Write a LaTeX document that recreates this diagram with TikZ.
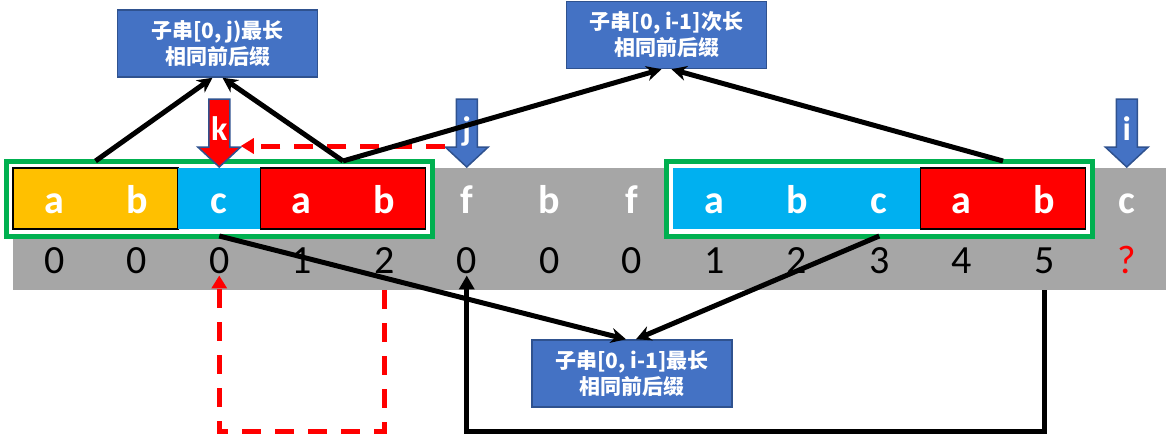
\documentclass[tikz,border=0pt]{standalone}
\usepackage{fontspec}
\setmainfont{Carlito}
\newfontfamily\cjk{Noto Sans CJK SC}
\usepackage{tikz}
\usetikzlibrary{positioning,fit,backgrounds,arrows.meta}
\definecolor{BandGray}{HTML}{A6A6A6}
\definecolor{PrefixYellow}{HTML}{FFC000}
\definecolor{MidBlue}{HTML}{00B0F0}
\definecolor{SuffixRed}{HTML}{FF0000}
\definecolor{FrameGreen}{HTML}{00B050}
\definecolor{BoxBlue}{HTML}{4472C4}
\definecolor{BoxEdge}{HTML}{2F528F}

\begin{document}
\begin{tikzpicture}[
      x=1pt, y=-1pt,
      every node/.style={align=center},
      cell/.style={minimum height=61pt, inner sep=0pt, outer sep=0pt},
      letter/.style={anchor=base, inner sep=0pt, text=white, font=\bfseries\fontsize{40}{48}\selectfont},
      digit/.style={anchor=base, inner sep=2pt, font=\fontsize{40}{48}\selectfont},
      greenframe/.style={draw=FrameGreen, fill=white, line width=5pt, inner sep=7pt, outer sep=0pt},
      note/.style={draw=BoxEdge, line width=1.5pt, fill=BoxBlue, text=white, minimum width=200pt, minimum height=67pt, font=\cjk\bfseries\fontsize{21}{26}\selectfont},
      pointer/.style={draw=BoxEdge, line width=1.5pt},
      ptext/.style={anchor=base, text=white, inner sep=0pt, font=\bfseries\fontsize{34}{40}\selectfont},
      arrow/.style={line width=5pt, -{Stealth[length=15pt,width=15pt]}},
      looparrow/.style={line width=5pt, -{Triangle[length=14pt,width=15pt]}},
      dasharrow/.style={line width=5pt, SuffixRed, dash pattern=on 19pt off 14pt, -{Triangle[length=13pt,width=15pt]}}
    ]
      \useasboundingbox (0,0) rectangle (1166,436);
      % coloured parts of the string
      \node[cell, fill=PrefixYellow, draw, line width=1.5pt, minimum width=165pt] (yel) at (95.5,198.5) {};
      \node[cell, fill=MidBlue, minimum width=82.5pt] (lblue) at (219.25,198.5) {};
      \node[cell, fill=SuffixRed, draw, line width=1.5pt, minimum width=165pt] (lred) at (343,198.5) {};
      \node[cell, fill=MidBlue, minimum width=247.5pt] (rblue) at (796.75,198.5) {};
      \node[cell, fill=SuffixRed, draw, line width=1.5pt, minimum width=165pt] (rred) at (1003,198.5) {};
      % letters and next values
      \foreach \ch [count=\k from 0] in {a,b,c,a,b,f,b,f,a,b,c,a,b,c}
        \node[letter] (c\k) at ({13+82.5*(\k+0.5)},213) {\ch};
      \foreach \v [count=\k from 0] in {0,0,0,1,2,0,0,0,1,2,3,4,5,{\textcolor{SuffixRed}{?}}}
        \node[digit] (d\k) at ({13+82.5*(\k+0.5)},273) {\v};
      \begin{scope}[on background layer]
        \node[fill=BandGray, minimum width=1153pt, minimum height=122pt, inner sep=0pt, anchor=north west] (band) at (13,168) {};
        \node[greenframe, fit=(yel)(lred)] (lgreen) {};
        \node[greenframe, fit=(rblue)(rred)] (rgreen) {};
      \end{scope}
      % boxes
      \node[note] (jmax) at (217.5,43.5) {子串[0, j)最长\\相同前后缀};
      \node[note] (isecond) at (666.5,35) {子串[0, i-1]次长\\相同前后缀};
      \node[note] (imax) at (632,373.5) {子串[0, i-1]最长\\相同前后缀};
      % pointers k, j, i
      \foreach \x/\c/\lab/\n in {219.25/SuffixRed/k/karr, 466.75/BoxBlue/j/jarr, 1126.75/BoxBlue/i/iarr} {
        \draw[pointer, fill=\c] (\x-10.5,99) -- (\x+10.5,99) -- (\x+10.5,147) -- (\x+21.5,147) -- (\x,167) -- (\x-21.5,147) -- (\x-10.5,147) -- cycle;
        \coordinate (\n-l) at (\x-21.5,146);
        \coordinate (\n-r) at (\x+21.5,146);
        \node[ptext] (\n) at (\x,140) {\lab};
      }
      \draw[dasharrow] (jarr-l) -- (karr-r);
      % arrows to the boxes
      \draw[arrow] (yel.north |- lgreen.north) -- ([xshift=-5pt]jmax.south);
      \draw[arrow] (lred.north |- lgreen.north) -- ([xshift=5pt]jmax.south);
      \draw[arrow] (lred.north |- lgreen.north) -- ([xshift=-5pt]isecond.south);
      \draw[arrow] (rred.north |- rgreen.north) -- ([xshift=5pt]isecond.south);
      \draw[arrow] (lblue.south |- lgreen.south) -- ([xshift=-6pt]imax.north);
      \draw[arrow] (c10 |- rgreen.south) -- ([xshift=4pt]imax.north);
      % loops back under the band
      \coordinate (loopbot) at (0,431);
      \draw[dasharrow] (d4 |- band.south) -- (d4 |- loopbot) -| (d2.south);
      \draw[looparrow] (d12 |- band.south) -- (d12 |- loopbot) -| (d5.south);
    \end{tikzpicture}
\end{document}
